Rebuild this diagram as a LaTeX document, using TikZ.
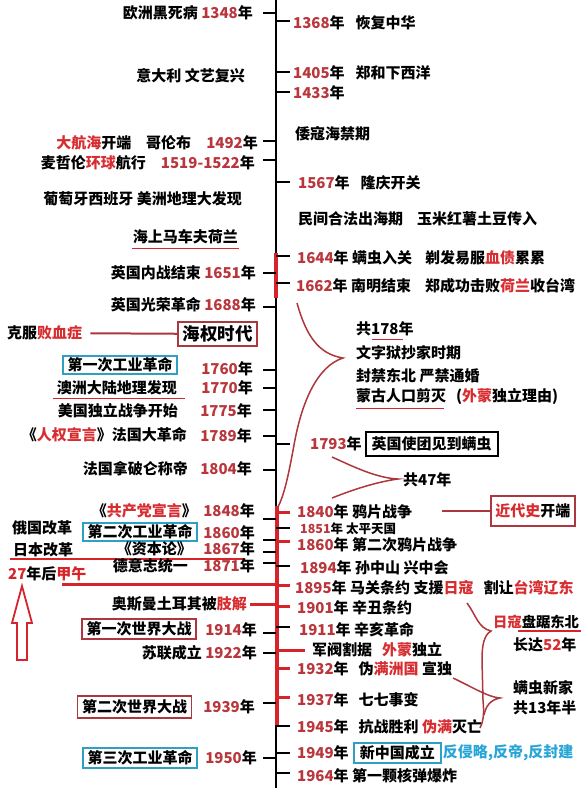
\documentclass[tikz,border=0pt]{standalone}
\usepackage{fontspec}
\setmainfont{Noto Sans CJK SC}
\usetikzlibrary{positioning, calc}
\definecolor{yearred}{RGB}{185,55,60}
\definecolor{wordred}{RGB}{215,45,48}
\definecolor{barred}{RGB}{214,36,42}
\definecolor{framered}{RGB}{172,55,60}
\definecolor{frameblue}{RGB}{45,160,195}
\definecolor{textblue}{RGB}{40,165,215}
\newcommand{\yr}[1]{\textcolor{yearred}{#1}年}
\newcommand{\hl}[1]{\textcolor{wordred}{#1}}

\begin{document}
\begin{tikzpicture}[
    x=1pt, y=-1pt,
    font=\fontsize{15}{17}\selectfont\bfseries,
    lft/.style={anchor=east, inner sep=0pt},
    rgt/.style={anchor=west, inner sep=0pt},
    small/.style={font=\fontsize{12.5}{14}\selectfont\bfseries},
    bluebox/.style={draw=frameblue, line width=1.8pt, inner xsep=4.5pt, inner ysep=2pt},
    redbox/.style={draw=framered, line width=1.8pt, inner xsep=4.5pt, inner ysep=4pt},
    blackbox/.style={draw=black, line width=1.6pt, inner xsep=6pt, inner ysep=5pt},
    tick/.style={line width=1.8pt},
    redtick/.style={barred, line width=3pt},
    underl/.style={barred, line width=1.5pt},
    brace/.style={framered, line width=1.5pt},
    link/.style={barred, line width=2pt}
  ]
    \useasboundingbox (0,0) rectangle (580,791);
    % axis
    \coordinate (top) at (276,0);
    \coordinate (bot) at (276,788);
    \draw[line width=2pt] (top) -- (bot);
    \draw[barred, line width=4pt] (276,253) -- (276,298);
    \draw[barred, line width=4pt] (277,506) -- (277,725);
    \foreach \y in {13,141,160,273,307,370,388,410,436,470,519,540,552,563,633,653,703,758}
      \draw[tick] (263,\y) -- (276,\y);
    \foreach \y in {21,72,92,182,256,283,444,528,566,627,726,753,773}
      \draw[tick] (276,\y) -- (290,\y);
    \foreach \y in {512,541,585,606,668,697}
      \draw[redtick] (276,\y) -- (290,\y);

    % left side
    \node[lft] (l1348) at (253,13) {欧洲黑死病 \yr{1348}};
    \node[lft] (renais) at (245,76) {意大利 文艺复兴};
    \node[lft] (l1492) at (258,143) {\hl{大航海}开端\quad 哥伦布\quad \yr{1492}};
    \node[lft] (l1519) at (255,163) {麦哲伦\hl{环球}航行\quad \textcolor{yearred}{1519-1522}年};
    \node[lft] (amer) at (242,199) {葡萄牙西班牙 美洲地理大发现};
    \node[lft] (dutch) at (238,237) {海上马车夫荷兰};
    \draw[underl] ($(dutch.south west)+(-1,4)$) -- ($(dutch.south east)+(1,4)$);
    \node[lft] (l1651) at (256,273) {英国内战结束 \yr{1651}};
    \node[lft] (l1688) at (256,305) {英国光荣革命 \yr{1688}};
    \node[redbox, anchor=east, font=\fontsize{17.5}{19}\selectfont\bfseries] (seapow) at (258,334) {海权时代};
    \node[rgt] (scurvy) at (7,333) {克服\hl{败血症}};
    \draw[link, framered, shorten <=8pt] (scurvy) -- (seapow);
    \node[bluebox] (ind1) at (120,365) {第一次工业革命};
    \node[lft] (l1760) at (253,369) {\yr{1760}};
    \node[lft] (aus) at (177,388) {澳洲大陆地理发现};
    \draw[underl] ($(aus.south west)+(-4,3)$) -- ($(aus.south east)+(8,3)$);
    \node[lft] (l1770) at (253,388) {\yr{1770}};
    \node[lft] (usa) at (178,411) {美国独立战争开始};
    \node[lft] (l1775) at (252,411) {\yr{1775}};
    \node[lft] (fra) at (187,435) {《\hl{人权宣言}》法国大革命};
    \node[lft] (l1789) at (252,436) {\yr{1789}};
    \node[lft] (napo) at (188,469) {法国拿破仑称帝};
    \node[lft] (l1804) at (252,469) {\yr{1804}};
    \node[lft] (manif) at (197,511) {《\hl{共产党宣言}》};
    \node[lft] (l1848) at (255,511) {\yr{1848}};
    \node[rgt] (russia) at (12,528) {俄国改革};
    \node[bluebox] (ind2) at (140,532) {第二次工业革命};
    \node[lft] (l1860) at (255,533) {\yr{1860}};
    \node[rgt] (japan) at (13,550) {日本改革};
    \node[lft] (capital) at (192,549) {《资本论》};
    \node[lft] (l1867) at (255,549) {\yr{1867}};
    \draw[link] ($(japan.south west)+(-3,2)$) -- ++(235,0);
    \node[lft] (german) at (188,566) {德意志统一};
    \node[lft] (l1871) at (255,566) {\yr{1871}};
    \node[rgt] (after27) at (8,574) {\textcolor{barred}{27}年后\textcolor{barred}{甲午}};
    \coordinate (jw) at (62,584);
    \draw[link, line width=3pt] (jw) -- (jw -| top);
    \draw[barred, line width=1.8pt] (22,586) -- (32,623) -- (27,623) -- (27,660)
      -- (17,660) -- (17,623) -- (12,623) -- cycle;
    \node[lft] (ottoman) at (247,604) {奥斯曼土耳其被\hl{肢解}};
    \draw[link, line width=3pt] (ottoman.east) ++(3,0) -- (ottoman.east -| top);
    \node[redbox, inner ysep=3pt] (ww1) at (139,629) {第一次世界大战};
    \node[lft] (l1914) at (257,630) {\yr{1914}};
    \node[lft] (ussr) at (257,653) {苏联成立 \yr{1922}};
    \node[redbox] (ww2) at (134.5,707) {第二次世界大战};
    \node[lft] (l1939) at (255,707) {\yr{1939}};
    \node[bluebox, inner ysep=3pt] (ind3) at (140,758) {第三次工业革命};
    \node[lft] (l1950) at (257,758) {\yr{1950}};

    % right side
    \node[rgt] (r1368) at (293,23) {\yr{1368}\hspace{11pt}恢复中华};
    \node[rgt] (r1405) at (293,73) {\yr{1405}\hspace{11pt}郑和下西洋};
    \node[rgt] (r1433) at (293,93) {\yr{1433}};
    \node[rgt] (wokou) at (295,134) {倭寇海禁期};
    \node[rgt] (r1567) at (298,183) {\yr{1567}\hspace{11pt}隆庆开关};
    \node[rgt] (civil) at (298,219) {民间合法出海期\hspace{14pt}玉米红薯土豆传入};
    \node[rgt] (r1644) at (297,258) {\yr{1644} 螨虫入关\hspace{13pt}剃发易服\hl{血债}累累};
    \node[rgt] (r1662) at (296,286) {\yr{1662} 南明结束\hspace{14pt}郑成功击败\hl{荷兰}收台湾};
    \node[rgt] (tot178) at (356,329) {共178年};
    \draw[underl] ($(tot178.south west)+(16,3)$) -- ++(31,0);
    \node[rgt] (lit) at (356,353) {文字狱抄家时期};
    \node[rgt] (ne) at (356,376) {封禁东北 严禁通婚};
    \node[rgt] (mongol) at (356,397) {蒙古人口剪灭\hspace{10pt}(\hl{外蒙}独立理由)};
    \draw[underl] ($(mongol.south west)+(0,3)$) -- ++(88,0);
    \draw[brace] (297,303) .. controls (306,335) and (318,354) .. (343,358)
      .. controls (318,366) and (302,400) .. (294,445)
      .. controls (288,478) and (284,495) .. (278,507);
    \node[rgt] (r1793) at (310,444) {\yr{1793}};
    \node[blackbox, right=3pt of r1793] (envoy) {英国使团见到螨虫};
    \node[rgt] (tot47) at (403,480) {共47年};
    \draw[brace] (332,457) .. controls (352,466) and (376,478) .. (398,479)
      .. controls (376,482) and (352,490) .. (332,498);
    \node[rgt] (r1840) at (297,512) {\yr{1840} 鸦片战争};
    \node[redbox, anchor=west, inner ysep=8pt] (modern) at (490,511) {\hl{近代史}开端};
    \draw[link, framered] (modern.west) -- ++(-48,0);
    \node[rgt, small] (r1851) at (300,529) {\yr{1851} 太平天国};
    \node[rgt] (r1860) at (297,545) {\yr{1860} 第二次鸦片战争};
    \node[rgt] (r1894) at (300,568) {\yr{1894} 孙中山 兴中会};
    \node[rgt] (r1895) at (295,588) {\yr{1895} 马关条约 支援\hl{日寇}\hspace{10pt}割让\hl{台湾辽东}};
    \node[rgt] (r1901) at (297,608) {\yr{1901} 辛丑条约};
    \node[rgt] (r1911) at (299,630) {\yr{1911} 辛亥革命};
    \node[rgt] (warlord) at (312,650) {军阀割据\hspace{10pt}\hl{外蒙}独立};
    \draw[redtick] (warlord.west -| top) -- ++(29,0);
    \node[rgt] (r1932) at (297,669) {\yr{1932}\hspace{10pt}伪\hl{满洲国} 宣独};
    \node[rgt] (r1937) at (297,700) {\yr{1937}\hspace{10pt}七七事变};
    \node[rgt] (r1945) at (297,727) {\yr{1945}\hspace{10pt}抗战胜利 \hl{伪满}灭亡};
    \node[rgt] (r1949) at (297,753) {\yr{1949}};
    \node[bluebox, inner xsep=6pt, inner ysep=3pt, right=4pt of r1949] (prc) {新中国成立};
    \node[rgt, right=1pt of prc, text=textblue] (anti) {反侵略,反帝,反封建};
    \node[rgt] (r1964) at (297,776) {\yr{1964} 第一颗核弹爆炸};
    \node[rgt, font=\fontsize{14.3}{16}\selectfont\bfseries] (japne) at (493,622) {\hl{日寇}盘踞东北};
    \draw[underl] ($(japne.south west)+(25,2)$) -- ($(japne.south east)+(2,2)$);
    \node[rgt] (len52) at (513,645) {长达\hl{52}年};
    \node[rgt] (mznew) at (513,688) {螨虫新家};
    \node[rgt] (tot13) at (513,708) {共13年半};
    \draw[brace] (467,603) .. controls (476,615) and (478,628) .. (491,631)
      .. controls (484,635) and (482,645) .. (482,660)
      -- (483,700) .. controls (484,712) and (484,720) .. (480,728);
    \draw[brace] (453,678) .. controls (474,688) and (488,697) .. (500,698)
      .. controls (490,700) and (486,706) .. (484,715);
  \end{tikzpicture}
\end{document}
